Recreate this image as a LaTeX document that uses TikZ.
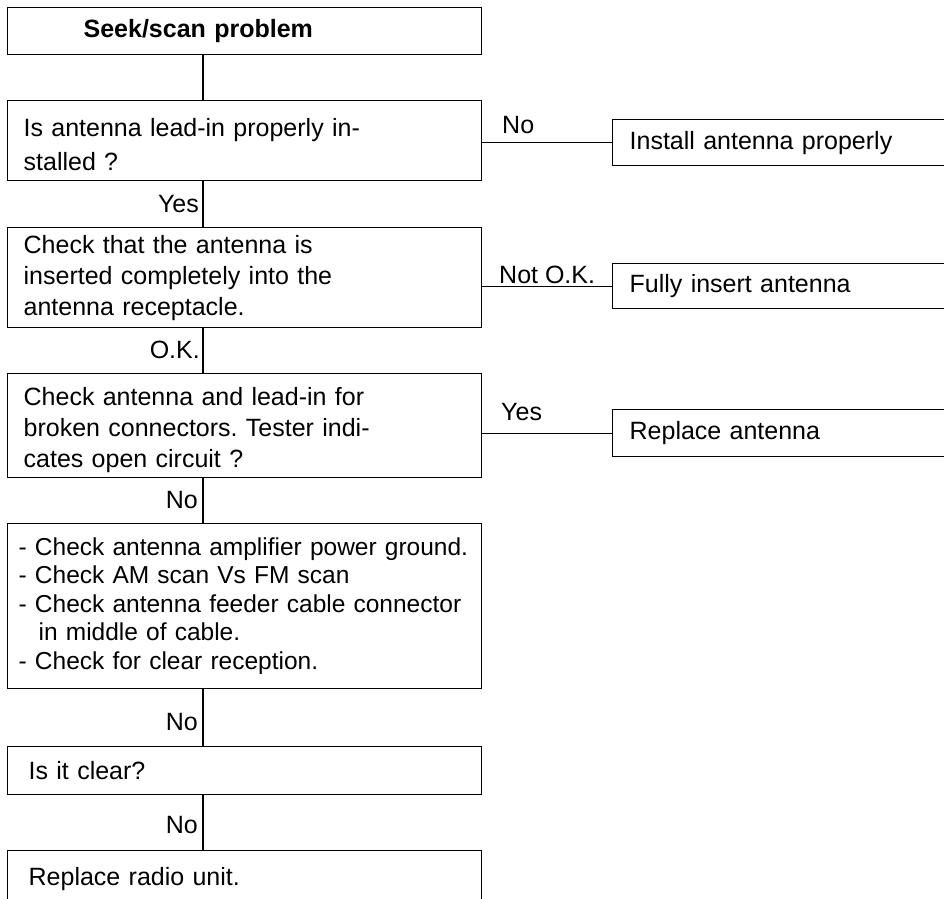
\documentclass[tikz,border=0pt]{standalone}
\usepackage{fontspec}
\setmainfont{Liberation Sans}
\frenchspacing
\begin{document}
\begin{tikzpicture}[x=1pt,y=-1pt,
  box/.style={draw=black, line width=1.3pt, anchor=north west, inner xsep=16pt, inner ysep=0pt,
    text width=442pt, align=left, font=\fontsize{25}{31}\selectfont\frenchspacing},
  rbox/.style={draw=black, line width=1.3pt, anchor=north west, inner xsep=17pt, inner ysep=0pt,
    text width=400pt, align=left, font=\fontsize{25}{31}\selectfont},
  lbl/.style={inner sep=0pt, font=\fontsize{25}{30}\selectfont},
  wire/.style={draw=black, line width=1.3pt}]
\useasboundingbox (0,0) rectangle (944,898);
\clip (0,0) rectangle (944,898);
\coordinate (spine) at (203,0);

\node[box, minimum height=47pt] (b1) at (7,7) {\hspace*{60pt}\textbf{Seek/scan problem}};
\node[box, minimum height=80pt, text height=25pt, font=\fontsize{25}{34}\selectfont] (b2) at (7,100) {Is antenna lead-in properly in-\\stalled ?};
\node[box, minimum height=100pt] (b3) at (7,227) {Check that the antenna is\\inserted completely into the\\antenna receptacle.};
\node[box, minimum height=104pt, text height=26pt] (b4) at (7,373) {Check antenna and lead-in for\\broken connectors. Tester indi-\\cates open circuit ?};
\node[box, minimum height=165pt, inner xsep=11pt, text width=452pt, font=\fontsize{24.5}{28.5}\selectfont] (b5) at (7,523)
  {\mbox{- Check antenna amplifier power ground.}\\- Check AM scan Vs FM scan\\\mbox{- Check antenna feeder cable connector}\\\hspace*{20pt}in middle of cable.\\- Check for clear reception.};
\node[box, minimum height=48pt, inner xsep=21pt, text width=432pt] (b6) at (7,746) {Is it clear?};
\node[box, minimum height=100pt, inner xsep=21pt, text width=432pt, text depth=48pt] (b7) at (7,850) {Replace radio unit.};

\node[rbox, minimum height=46pt] (r1) at (612,119) {Install antenna properly};
\node[rbox, minimum height=45pt] (r2) at (612,263) {Fully insert antenna};
\node[rbox, minimum height=47pt] (r3) at (612,409) {Replace antenna};

\draw[wire] (b1.south -| spine) -- (b2.north -| spine);
\draw[wire] (b2.south -| spine) -- (b3.north -| spine);
\draw[wire] (b3.south -| spine) -- (b4.north -| spine);
\draw[wire] (b4.south -| spine) -- (b5.north -| spine);
\draw[wire] (b5.south -| spine) -- (b6.north -| spine);
\draw[wire] (b6.south -| spine) -- (b7.north -| spine);

\draw[wire] (r1.west -| b2.east) -- (r1.west);
\draw[wire] (r2.west -| b3.east) -- (r2.west);
\draw[wire] (r3.west -| b4.east) -- (r3.west);

\node[lbl, anchor=base east] (l1) at (199,212) {Yes};
\node[lbl, anchor=base east] (l2) at (200,358) {O.K.};
\node[lbl, anchor=base east] (l3) at (198,508) {No};
\node[lbl, anchor=base east] (l4) at (198,730) {No};
\node[lbl, anchor=base east] (l5) at (198,833) {No};
\node[lbl, anchor=base west] (l6) at (502,133) {No};
\node[lbl, anchor=base west] (l7) at (499,283) {Not O.K.};
\node[lbl, anchor=base west] (l8) at (501,420) {Yes};
\end{tikzpicture}
\end{document}
